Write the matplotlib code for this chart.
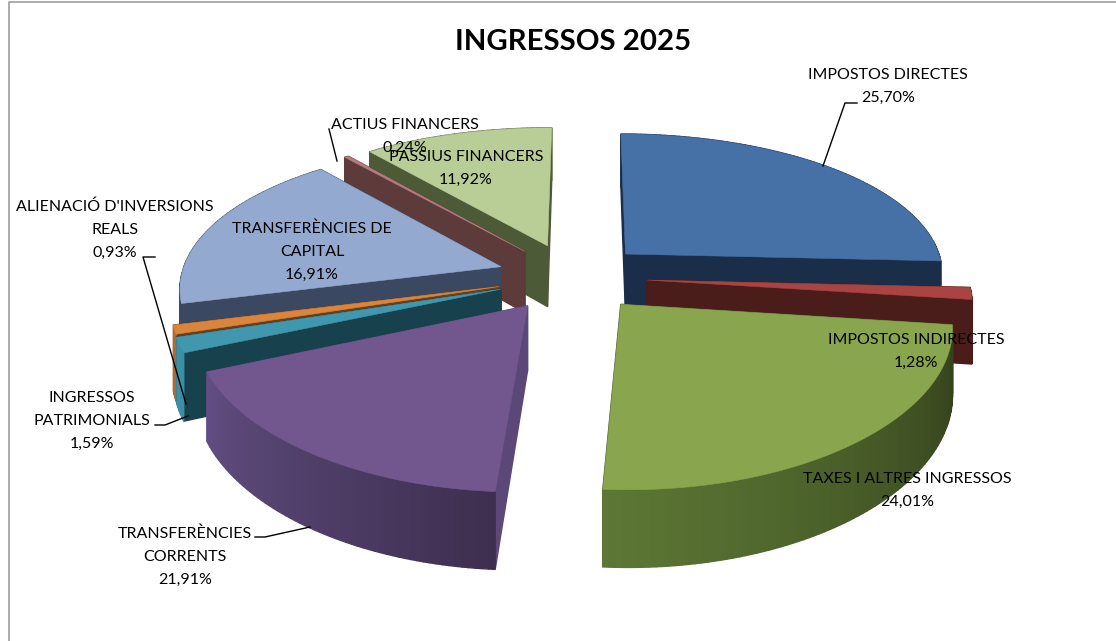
import numpy as np
import matplotlib.pyplot as plt
from matplotlib.colors import to_rgb

plt.rcParams['font.family'] = ['Lato', 'DejaVu Sans']

# Percentages printed on the chart
names = ['IMPOSTOS DIRECTES', 'IMPOSTOS INDIRECTES', 'TAXES I ALTRES INGRESSOS',
         'TRANSFERÈNCIES\nCORRENTS', 'INGRESSOS\nPATRIMONIALS',
         "ALIENACIÓ D'INVERSIONS\nREALS", 'TRANSFERÈNCIES DE\nCAPITAL',
         'ACTIUS FINANCERS', 'PASSIUS FINANCERS']
printed = [25.70, 1.28, 24.01, 21.91, 1.59, 0.93, 16.91, 0.24, 11.92]
shares = [25.70, 1.28, 24.01, 17.42, 1.59, 0.93, 17.80, 0.24, 11.03]

top_colors = ['#4571a6', '#a94442', '#89a54e', '#71578e', '#4197ae',
              '#da843c', '#93a9d0', '#b57c7b', '#b9cd96']
cut_colors = ['#1a2e4a', '#4a1c1a', '#3d4d22', '#5b4878', '#17414c',
              '#6a3f1b', '#3b4861', '#5c3b3a', '#4d5a38']
wall_dark = ['#1a2e4a', '#4a1c1a', '#323f1b', '#3e2f50', '#3d8fa6',
             '#b06a30', '#3b4861', '#5c3b3a', '#4d5a38']
wall_light = ['#1a2e4a', '#4a1c1a', '#5d7835', '#624e82', '#3d8fa6',
              '#b06a30', '#3b4861', '#5c3b3a', '#4d5a38']

# back to front
draw_order = [0, 8, 7, 6, 5, 4, 1, 2, 3]

# label centres and leader lines, in pixels
label_pos = [(888, 86.5), (916, 351), (907, 490), (185, 557), (92, 421),
             (115, 230), (312, 252), (405, 136), (466, 168)]
leaders = [[(857, 103), (845, 103), (823, 166)],
           [(329, 129), (337, 161)],
           [(155, 257), (143, 257), (186, 404)],
           [(155, 425), (165, 425), (188, 416)],
           [(255, 537), (265, 537), (310, 527)]]

cx, cy = 572, 277
rx, ry = 320, 146
persp_x, persp_y = 0.13, 0.16
explode = 0.235
depth = 63
start = 0.3


def project(X, Y, z=0.0):
    wx = 1 + persp_x * Y
    wy = 1 + persp_y * Y
    return cx + rx * X / wx, cy - ry * Y / wy + depth * z / wy


fig = plt.figure(figsize=(11.16, 6.41), dpi=100)
ax = fig.add_axes([0, 0, 1, 1])
ax.set_xlim(0, 1116)
ax.set_ylim(641, 0)
ax.axis('off')

# chart frame
ax.plot([9, 9, 1116], [641, 2, 2], color='#a6a6a6', lw=1.3)

edges = start + np.cumsum([0] + shares) * 3.6

for i in draw_order:
    t0, t1 = np.radians(edges[i]), np.radians(edges[i + 1])
    mid = (t0 + t1) / 2
    ax0, ay0 = explode * np.sin(mid), explode * np.cos(mid)
    th = np.linspace(t0, t1, max(int(np.degrees(t1 - t0)), 2) + 1)
    rim_x = ax0 + np.sin(th)
    rim_y = ay0 + np.cos(th)
    dark, light = np.array(to_rgb(wall_dark[i])), np.array(to_rgb(wall_light[i]))
    cut = np.array(to_rgb(cut_colors[i]))

    quads = []
    # cut faces
    for k in (0, -1):
        quads.append(((ay0 + rim_y[k]) / 2, [(ax0, ay0), (rim_x[k], rim_y[k])], cut))
    # outer face
    for k in range(len(th) - 1):
        f = k / max(len(th) - 2, 1)
        quads.append(((rim_y[k] + rim_y[k + 1]) / 2 - 1,
                      [(rim_x[k], rim_y[k]), (rim_x[k + 1], rim_y[k + 1])],
                      dark + (light - dark) * f))
    quads.sort(key=lambda q: -q[0])
    for _, (p0, p1), c in quads:
        a, b = project(*p0), project(*p1)
        d, e = project(*p1, 1), project(*p0, 1)
        ax.fill([a[0], b[0], d[0], e[0]], [a[1], b[1], d[1], e[1]],
                facecolor=c, edgecolor=c, lw=1.0)

    tx, ty = project(np.r_[ax0, rim_x], np.r_[ay0, rim_y])
    ax.fill(tx, ty, facecolor=top_colors[i], edgecolor=top_colors[i], lw=0.4)

for pts in leaders:
    xs, ys = zip(*pts)
    ax.plot(xs, ys, color='black', lw=1)

for name, val, (x, y) in zip(names, printed, label_pos):
    txt = name + '\n' + f'{val:.2f}'.replace('.', ',') + '%'
    ax.text(x, y, txt, ha='center', va='center', fontsize=11.5, color='black',
            linespacing=1.8)

ax.text(573, 42, 'INGRESSOS 2025', ha='center', va='center', fontsize=21.2,
        fontweight='bold', color='black')

fig.savefig('out.png', dpi=100)
